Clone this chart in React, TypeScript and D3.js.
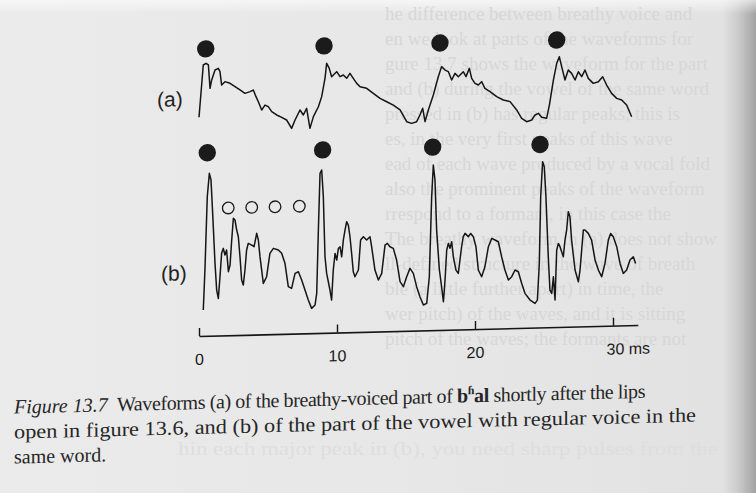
import { useEffect, useRef } from 'react';
import * as d3 from 'd3';

const W = 756;
const H = 493;

// (a) breathy-voiced part: [time in ms, amplitude in arbitrary units]
const breathyWave: [number, number][] = [
  [0, 12.7], [0.31, 64.9], [0.51, 66.5], [0.68, 64.8], [0.8, 41.4], [0.92, 49.7], [1.16, 59.6], [1.4, 61.2],
  [1.52, 57.8], [1.64, 44.4], [1.88, 47.7], [2.25, 45.9], [2.61, 42.4], [2.97, 39.0], [3.33, 35.5], [3.7, 37.1],
  [3.94, 38.6], [4.13, 31.9], [4.3, 26.8], [4.54, 18.4], [4.78, 23.3], [5.02, 21.6], [5.27, 16.5], [5.63, 13.1],
  [5.99, 10.6], [6.35, 7.8], [6.71, -0.7], [6.96, 7.6], [7.32, 17.5], [7.56, 12.4], [7.8, 19.0], [8.04, -1.1],
  [8.29, 10.5], [8.65, 20.3], [8.89, 30.3], [9.13, 48.5], [9.25, 63.5], [9.44, 58.4], [9.61, 50.0], [9.86, 53.3],
  [9.98, 54.9], [10.22, 49.8], [10.46, 51.4], [10.7, 48.0], [10.94, 52.9], [11.18, 47.8], [11.43, 42.7], [11.67, 39.3],
  [12.15, 37.5], [12.63, 32.3], [13.12, 27.1], [13.6, 23.6], [14.08, 20.1], [14.57, 15.0], [15.05, 3.1], [15.41, 1.3],
  [15.77, 2.9], [16.01, 9.5], [16.21, 16.1], [16.38, 2.7], [16.62, 14.3], [16.98, 29.1], [17.34, 47.3], [17.58, 57.3],
  [17.83, 53.8], [18.07, 52.1], [18.31, 43.7], [18.55, 50.3], [18.79, 46.8], [19.15, 51.7], [19.35, 46.7], [19.59, 54.9],
  [19.76, 44.8], [20.0, 39.8], [20.24, 38.0], [20.48, 41.3], [20.72, 34.5], [21.09, 31.1], [21.57, 25.9], [22.05, 22.4],
  [22.54, 20.6], [23.02, 12.1], [23.38, 3.6], [23.74, 0.1], [24.11, 1.7], [24.35, 6.6], [24.59, 8.2], [24.83, 4.1],
  [25.19, 3.0], [25.39, 16.2], [25.68, 41.1], [25.92, 57.7], [26.11, 64.3], [26.28, 54.3], [26.52, 40.8], [26.76, 50.8],
  [27.0, 47.3], [27.25, 40.6], [27.49, 48.8], [27.73, 43.8], [27.97, 50.3], [28.21, 41.9], [28.57, 36.8], [28.94, 38.3],
  [29.25, 43.2], [29.54, 34.8], [29.9, 26.3], [30.27, 21.2], [30.63, 19.4], [30.99, 14.3], [31.35, 2.5],
];

// (b) regular voice in the vowel
const modalWave: [number, number][] = [
  [0.31, 6.6], [0.43, 46.5], [0.6, 119.8], [0.75, 143.1], [0.87, 136.4], [0.99, 103.0], [1.16, 52.9], [1.28, 26.2],
  [1.4, 17.8], [1.52, 39.5], [1.64, 62.8], [1.76, 67.7], [1.88, 61.0], [2.0, 66.0], [2.13, 44.3], [2.25, 50.9],
  [2.37, 75.8], [2.49, 97.5], [2.61, 95.8], [2.73, 85.7], [2.85, 79.0], [2.97, 59.0], [3.09, 35.6], [3.21, 30.6],
  [3.33, 45.5], [3.45, 65.5], [3.57, 72.1], [3.82, 70.3], [3.99, 68.6], [4.18, 81.9], [4.3, 75.2], [4.42, 58.5],
  [4.66, 31.7], [4.9, 38.3], [5.14, 61.6], [5.39, 66.5], [5.75, 64.7], [5.99, 61.3], [6.23, 51.2], [6.47, 27.8],
  [6.71, 26.0], [6.96, 40.9], [7.2, 42.5], [7.44, 34.1], [7.68, 24.0], [7.92, 13.9], [8.16, 5.5], [8.41, 8.8],
  [8.53, 20.4], [8.65, 83.7], [8.77, 140.3], [8.89, 143.6], [9.01, 116.9], [9.13, 56.8], [9.25, 40.1], [9.49, 23.4],
  [9.61, 13.3], [9.73, 43.3], [9.86, 59.9], [9.98, 53.2], [10.1, 64.8], [10.22, 66.5], [10.34, 56.4], [10.46, 73.1],
  [10.58, 83.0], [10.7, 91.3], [10.82, 87.9], [10.94, 76.2], [11.06, 59.5], [11.18, 41.1], [11.3, 36.1], [11.55, 42.7],
  [11.71, 72.6], [11.91, 75.9], [12.15, 72.5], [12.39, 75.7], [12.51, 65.7], [12.75, 42.3], [13.0, 32.2], [13.24, 38.8],
  [13.48, 67.0], [13.65, 68.6], [13.84, 65.2], [14.08, 63.5], [14.32, 51.7], [14.57, 30.0], [14.81, 24.9], [15.05, 34.8],
  [15.29, 43.1], [15.53, 38.0], [15.77, 24.6], [16.01, 14.5], [16.26, 6.1], [16.5, 7.6], [16.69, 34.2], [16.86, 114.2],
  [16.98, 145.8], [17.1, 130.8], [17.22, 80.7], [17.42, 40.7], [17.58, 23.9], [17.71, 8.9], [17.83, 30.5], [17.95, 60.5],
  [18.07, 67.1], [18.19, 62.1], [18.31, 68.7], [18.43, 53.6], [18.62, 40.2], [18.79, 36.8], [19.03, 63.4], [19.15, 73.4],
  [19.28, 76.7], [19.52, 73.3], [19.69, 76.5], [19.88, 73.1], [20.07, 63.1], [20.24, 39.7], [20.48, 32.9], [20.72, 42.8],
  [20.97, 62.8], [21.21, 71.0], [21.45, 69.3], [21.69, 67.5], [21.93, 52.4], [22.17, 39.0], [22.42, 28.9], [22.66, 32.2],
  [22.9, 38.8], [23.14, 37.0], [23.38, 25.3], [23.62, 15.2], [23.99, 8.4], [24.35, 4.9], [24.52, 8.2], [24.66, 44.8],
  [24.76, 111.5], [24.9, 146.4], [25.02, 141.4], [25.14, 111.3], [25.31, 51.3], [25.43, 17.9], [25.56, 14.5], [25.68, 31.1],
  [25.8, 7.8], [25.92, 57.7], [26.04, 64.3], [26.16, 61.0], [26.4, 50.9], [26.52, 67.5], [26.64, 77.5], [26.76, 95.8],
  [26.88, 90.7], [27.0, 67.3], [27.25, 37.3], [27.49, 25.5], [27.61, 37.1], [27.85, 77.1], [27.97, 77.0], [28.21, 73.6],
  [28.45, 66.8], [28.7, 46.8], [28.94, 36.7], [29.18, 29.9], [29.42, 43.2], [29.66, 66.4], [29.83, 73.0], [30.02, 69.6],
  [30.27, 59.6], [30.51, 42.8], [30.75, 32.7], [30.99, 36.0], [31.23, 45.9], [31.47, 49.1], [31.64, 42.4],
];

// vocal fold pulses (solid points) and formant peaks (open circles), ms
const breathyPulses = [0.49, 9.06, 17.46, 25.92];
const modalPulses = [0.6, 8.96, 16.93, 24.71];
const formantPeaks = [2.12, 3.82, 5.51, 7.27];
const breathyPulseLevel = 81;
const modalPulseLevel = 163.7;
const formantLevel = 108;

const axisEnd = 31.8;
const axisTicks = [0, 10, 20, 30];
const axisTickLabels = ['0', '10', '20', '30 ms'];

// print-through from the other page
const bleedLines = [
  'he difference between breathy voice and',
  'en we look at parts of the waveforms for',
  'gure 13.7 shows the waveform for the part',
  'and (b) during the vowel of the same word',
  'pressed in (b) has regular peaks; this is',
  'es, in the very first peaks of this wave',
  'ead of each wave produced by a vocal fold',
  'also the prominent peaks of the waveform',
  'rrespond to a formant, in this case the',
  'The breathy waveform in (a) does not show',
  'll-defined structure in the wave of breath',
  'ble (a little further apart) in time, the',
  'wer pitch) of the waves, and it is sitting',
  'pitch of the waves; the formants are not',
];
const bleedFoot = 'hin each major peak in (b), you need sharp pulses from the';

export default function App() {
  const svgRef = useRef<SVGSVGElement>(null);

  useEffect(() => {
    const svg = d3.select(svgRef.current);
    svg.selectAll('*').remove();

    // page background with the shadow of the binding on the right
    const defs = svg.append('defs');
    const pageGrad = defs.append('linearGradient').attr('id', 'page')
      .attr('x1', '0%').attr('x2', '100%').attr('y1', '0%').attr('y2', '0%');
    [[0, '#ebebeb'], [0.55, '#e7e7e7'], [0.955, '#e2e2e2'], [0.975, '#cdcdcd'], [1, '#a3a3a3']]
      .forEach(([o, c]) => pageGrad.append('stop').attr('offset', o as number).attr('stop-color', c as string));
    const topGrad = defs.append('linearGradient').attr('id', 'topglow')
      .attr('x1', '0%').attr('x2', '0%').attr('y1', '0%').attr('y2', '100%');
    topGrad.append('stop').attr('offset', 0).attr('stop-color', '#fff').attr('stop-opacity', 0.6);
    topGrad.append('stop').attr('offset', 1).attr('stop-color', '#fff').attr('stop-opacity', 0);

    svg.append('rect').attr('width', W).attr('height', H).attr('fill', 'url(#page)');
    svg.append('rect').attr('width', W).attr('height', 14).attr('fill', 'url(#topglow)');

    // faint print-through, not tilted like the figure
    const bleed = svg.append('g')
      .attr('font-family', 'Liberation Serif')
      .attr('font-size', 19)
      .attr('fill', '#d7d7d7');
    bleed.selectAll('text')
      .data(bleedLines)
      .join('text')
      .attr('x', 385)
      .attr('y', (d, i) => 20 + i * 25)
      .text(d => d);
    bleed.append('text')
      .attr('x', 178).attr('y', 455)
      .attr('textLength', 540).attr('lengthAdjust', 'spacingAndGlyphs')
      .attr('fill', '#dedede')
      .text(bleedFoot);

    // the photo is slightly tilted: shear everything up to the right
    const g = svg.append('g').attr('transform', 'translate(199,0) skewY(-1.43) translate(-199,0)');

    const x = d3.scaleLinear().domain([0, 30]).range([199, 613]);
    const yA = d3.scaleLinear().domain([0, 100]).range([130, 30]);
    const yB = d3.scaleLinear().domain([0, 170]).range([316.7, 146.7]);

    const lineA = d3.line<[number, number]>().x(d => x(d[0])).y(d => yA(d[1]));
    const lineB = d3.line<[number, number]>().x(d => x(d[0])).y(d => yB(d[1]));

    g.append('path')
      .datum(breathyWave)
      .attr('fill', 'none')
      .attr('stroke', '#151515')
      .attr('stroke-width', 1.5)
      .attr('stroke-linejoin', 'round')
      .attr('d', lineA);

    g.append('path')
      .datum(modalWave)
      .attr('fill', 'none')
      .attr('stroke', '#151515')
      .attr('stroke-width', 1.5)
      .attr('stroke-linejoin', 'round')
      .attr('d', lineB);

    // pulse markers
    g.append('g').selectAll('circle')
      .data(breathyPulses)
      .join('circle')
      .attr('cx', d => x(d)).attr('cy', yA(breathyPulseLevel)).attr('r', 8.7)
      .attr('fill', '#1b1b1b');

    g.append('g').selectAll('circle')
      .data(modalPulses)
      .join('circle')
      .attr('cx', d => x(d)).attr('cy', yB(modalPulseLevel)).attr('r', 8.7)
      .attr('fill', '#1b1b1b');

    g.append('g').selectAll('circle')
      .data(formantPeaks)
      .join('circle')
      .attr('cx', d => x(d)).attr('cy', yB(formantLevel)).attr('r', 5.8)
      .attr('fill', 'none')
      .attr('stroke', '#1b1b1b')
      .attr('stroke-width', 1.3);

    // panel labels
    g.append('text').attr('x', 157).attr('y', 106)
      .attr('font-family', 'Liberation Sans').attr('font-size', 21).attr('fill', '#222')
      .text('(a)');
    g.append('text').attr('x', 161).attr('y', 280)
      .attr('font-family', 'Liberation Sans').attr('font-size', 21).attr('fill', '#222')
      .text('(b)');

    // time axis
    const xAxis = d3.scaleLinear().domain([0, axisEnd]).range([x(0), x(axisEnd)]);
    const axis = d3.axisBottom(xAxis)
      .tickValues(axisTicks)
      .tickFormat((d, i) => axisTickLabels[i])
      .tickSizeInner(-8)
      .tickSizeOuter(0)
      .tickPadding(17.5);

    const ax = g.append('g').attr('transform', 'translate(0,336)').call(axis);
    ax.select('.domain').attr('stroke', '#151515').attr('stroke-width', 1.6);
    ax.selectAll('.tick line').attr('stroke', '#151515').attr('stroke-width', 1.4);
    ax.selectAll('.tick text')
      .attr('font-family', 'Liberation Sans')
      .attr('font-size', 16)
      .attr('fill', '#1a1a1a');
    ax.selectAll('.tick:last-of-type text').attr('text-anchor', 'start').attr('x', -7);

    // caption
    const cap = g.append('g')
      .attr('font-family', 'Liberation Serif')
      .attr('font-size', 20)
      .attr('fill', '#262626');
    cap.append('text').attr('x', 14).attr('y', 409)
      .attr('font-style', 'italic').text('Figure 13.7');
    const l1 = cap.append('text').attr('x', 117).attr('y', 409)
      .attr('letter-spacing', -0.4);
    l1.append('tspan').text('Waveforms (a) of the breathy-voiced part of ');
    l1.append('tspan').attr('font-weight', 'bold').text('b');
    l1.append('tspan').attr('font-weight', 'bold').attr('font-size', 12).attr('dy', -8).text('ɦ');
    l1.append('tspan').attr('font-weight', 'bold').attr('dy', 8).text('al');
    l1.append('tspan').text(' shortly after the lips');
    cap.append('text').attr('x', 14).attr('y', 434)
      .attr('textLength', 682).attr('lengthAdjust', 'spacingAndGlyphs')
      .text('open in figure 13.6, and (b) of the part of the vowel with regular voice in the');
    cap.append('text').attr('x', 14).attr('y', 459).text('same word.');
  }, []);

  return (
    <svg
      ref={svgRef}
      width={W}
      height={H}
      style={{ position: 'absolute', left: 0, top: 0, display: 'block' }}
    />
  );
}
